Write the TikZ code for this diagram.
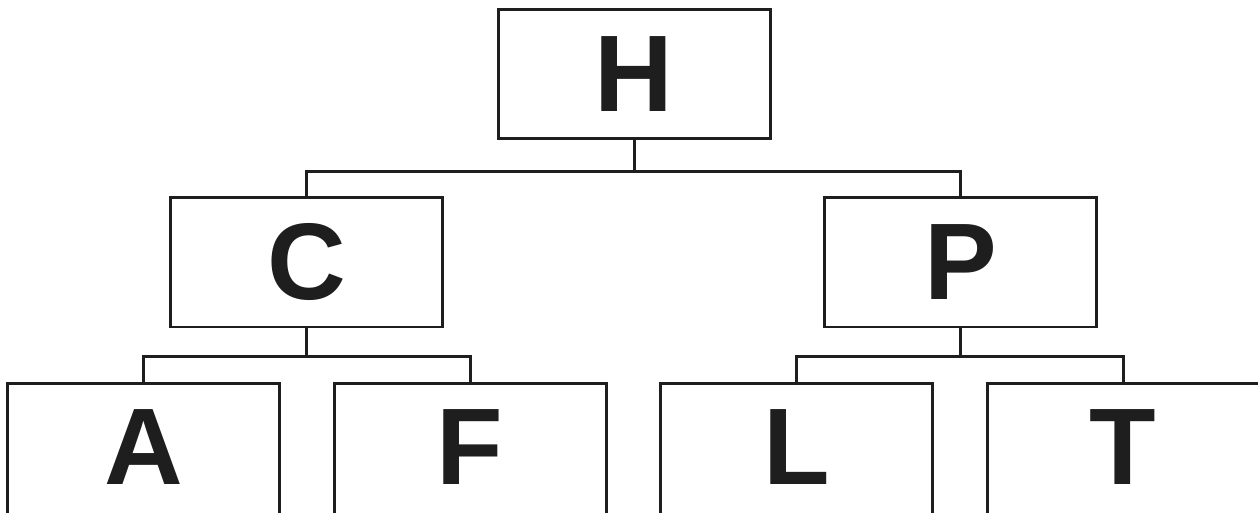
\documentclass[tikz,border=0pt]{standalone}
\usepackage{fontspec}
\setmainfont{Liberation Sans}
\usepackage{tikz}
\usetikzlibrary{positioning, calc}
\definecolor{ink}{HTML}{1E1E1E}

\begin{document}
\begin{tikzpicture}[x=0.02cm, y=-0.02cm,
  box/.style={draw=ink, line width=0.06cm, minimum width=272*0.02cm, minimum height=129*0.02cm, inner sep=0pt, text=ink, font=\fontsize{62}{62}\bfseries\selectfont},
  leaf/.style={box, draw=none, outer sep=0pt},
  link/.style={draw=ink, line width=0.06cm}]
  \useasboundingbox (0,0) rectangle (1258,513);
  \node[box] (H) at (634,74.5) {H};
  \node[box] (C) at (306.5,262.5) {C};
  \node[box] (P) at (960.5,262.5) {P};
  \node[leaf] (A) at (143.5,447.5) {A};
  \node[leaf] (F) at (470,447.5) {F};
  \node[leaf] (L) at (796.5,447.5) {L};
  \node[leaf] (T) at (1123,447.5) {T};

  % open boxes of the bottom row, cut by the page edge
  \foreach \n in {A,F,L,T}
    \draw[link] ($(\n.south west)+(0,6)$) |- (\n.north east) -- ($(\n.south east)+(0,6)$);

  \draw[link] (H.south) -- ++(0,31) -| (C.north);
  \draw[link] (H.south) -- ++(0,31) -| (P.north);
  \draw[link] (C.south) -- ++(0,28) -| (A.north);
  \draw[link] (C.south) -- ++(0,28) -| (F.north);
  \draw[link] (P.south) -- ++(0,28) -| (L.north);
  \draw[link] (P.south) -- ++(0,28) -| (T.north);
\end{tikzpicture}
\end{document}
